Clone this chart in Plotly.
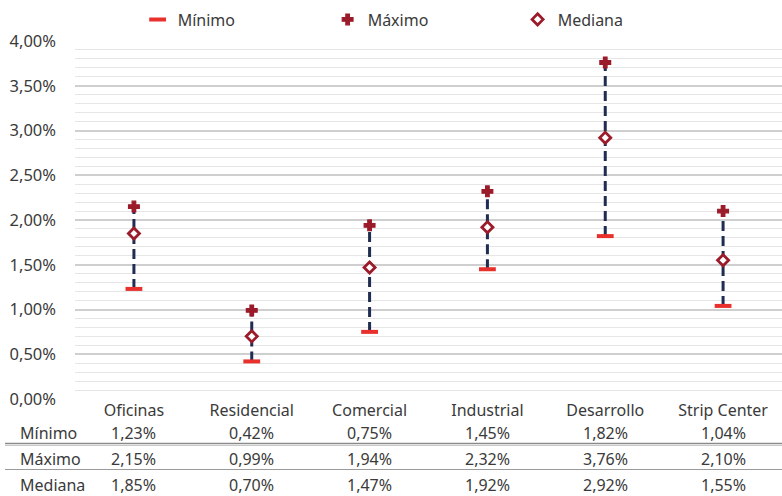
import plotly.graph_objects as go

categories = ["Oficinas", "Residencial", "Comercial", "Industrial", "Desarrollo", "Strip Center"]
minimo = [1.23, 0.42, 0.75, 1.45, 1.82, 1.04]
maximo = [2.15, 0.99, 1.94, 2.32, 3.76, 2.10]
mediana = [1.85, 0.70, 1.47, 1.92, 2.92, 1.55]
row_labels = ["Mínimo", "Máximo", "Mediana"]

FONT = "Noto Sans"
TXT = "#3a3a3a"
RED = "#e8302c"
DARK_RED = "#9b1b2a"
NAVY = "#1f2d52"

W, H = 782, 496
L, R, T, B = 75, 0, 41, 97
ph = H - T - B

def py(pix):
    return (H - B - pix) / ph

def px(pix):
    return (pix - L) / (W - L - R)

mn = [v / 100 for v in minimo]
mx = [v / 100 for v in maximo]
md = [v / 100 for v in mediana]

lx, ly = [], []
for c, a, b in zip(categories, mn, mx):
    lx += [c, c, None]
    ly += [a, b, None]

fig = go.Figure()
fig.add_trace(go.Scatter(x=lx, y=ly, mode="lines", showlegend=False, hoverinfo="skip",
                         line=dict(color=NAVY, width=3, dash="10px,5px")))
fig.add_trace(go.Scatter(x=categories, y=mn, mode="markers", name="Mínimo",
                         marker=dict(symbol="line-ew", size=12, color=RED,
                                     line=dict(color=RED, width=4))))
fig.add_trace(go.Scatter(x=categories, y=mx, mode="markers", name="Máximo",
                         marker=dict(symbol="cross", size=9, color=DARK_RED,
                                     line=dict(color=DARK_RED, width=1.2))))
fig.add_trace(go.Scatter(x=categories, y=md, mode="markers", name="Mediana",
                         marker=dict(symbol="diamond", size=8.5, color="white",
                                     line=dict(color=DARK_RED, width=2.8))))

annotations = []
rows = [minimo, maximo, mediana]
row_y = [433, 459, 485]
for lab, vals, yy in zip(row_labels, rows, row_y):
    annotations.append(dict(text=lab, xref="paper", yref="paper", x=px(18), y=py(yy),
                            xanchor="left", yanchor="middle", showarrow=False,
                            font=dict(family=FONT, size=16, color=TXT)))
    for c, v in zip(categories, vals):
        annotations.append(dict(text=f"{v:.2f}%".replace(".", ","), xref="x", yref="paper",
                                x=c, y=py(yy), xanchor="center", yanchor="middle",
                                showarrow=False, font=dict(family=FONT, size=16, color=TXT)))

shapes = [
    dict(type="line", xref="paper", yref="paper", x0=px(5), x1=1, y0=py(443.5), y1=py(443.5),
         line=dict(color="#8a8a8a", width=1.5)),
    dict(type="line", xref="paper", yref="paper", x0=px(5), x1=1, y0=py(445.5), y1=py(445.5),
         line=dict(color="#c8c8c8", width=1)),
    dict(type="line", xref="paper", yref="paper", x0=px(5), x1=1, y0=py(469.5), y1=py(469.5),
         line=dict(color="#9a9a9a", width=1.2)),
]

fig.update_layout(
    width=W, height=H,
    margin=dict(l=L, r=R, t=T, b=B, pad=0, autoexpand=False),
    paper_bgcolor="white", plot_bgcolor="white",
    separators=",.",
    font=dict(family=FONT, size=16, color=TXT),
    showlegend=True,
    legend=dict(orientation="h", xref="container", yref="container", x=0.176, y=0.995,
                xanchor="left", yanchor="top", entrywidth=145, itemwidth=30,
                font=dict(family=FONT, size=16, color=TXT), bgcolor="rgba(0,0,0,0)"),
    xaxis=dict(type="category", range=[-0.5, len(categories) - 0.5],
               showgrid=False, zeroline=False, showline=False,
               automargin=False,
               ticks="", tickfont=dict(family=FONT, size=16, color=TXT)),
    yaxis=dict(range=[0, 0.04], dtick=0.005, tickformat=".2%", showgrid=True,
               automargin=False,
               gridcolor="#cfcfcf", gridwidth=1.5, zeroline=False, showline=False,
               ticklabelstandoff=18, tickfont=dict(family=FONT, size=16.5, color=TXT),
               minor=dict(dtick=0.001, showgrid=True, gridcolor="#e6e6e6", gridwidth=1)),
    annotations=annotations,
    shapes=shapes,
)

fig.write_html("out.html", config={"displayModeBar": False},
               post_script="document.body.style.margin='0';document.body.style.overflow='hidden';")
